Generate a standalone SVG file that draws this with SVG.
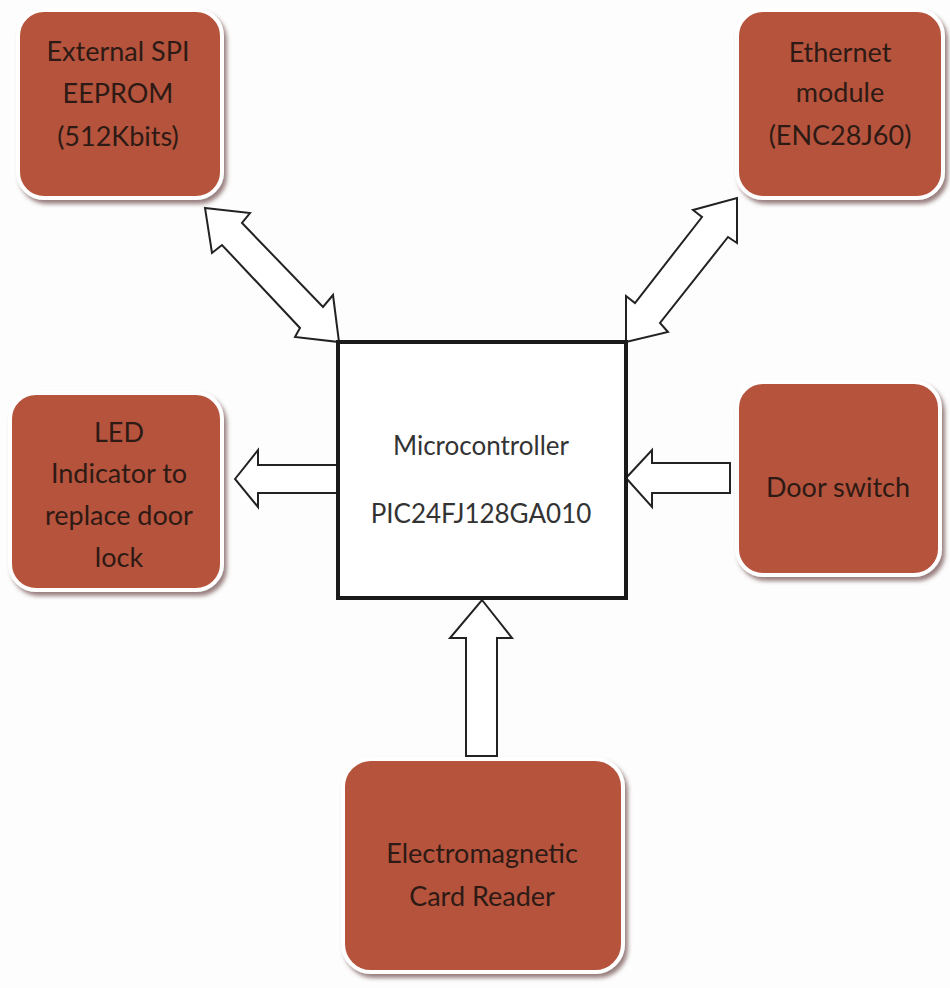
<svg xmlns="http://www.w3.org/2000/svg" width="950" height="988" viewBox="0 0 950 988">
<defs>
<filter id="sh" x="-10%" y="-10%" width="125%" height="125%">
<feDropShadow dx="3" dy="4" stdDeviation="2" flood-color="#6e4848" flood-opacity="0.7"/>
</filter>
<style>
.blk{fill:#b5533d;stroke:#ffffff;stroke-width:4;filter:url(#sh)}
.lbl{font-family:Lato,"Liberation Sans",sans-serif;font-size:27px;fill:#2e1a14;text-anchor:middle}
.mlbl{font-family:Lato,"Liberation Sans",sans-serif;font-size:26px;fill:#333333;text-anchor:middle}
.arr{fill:#ffffff;stroke:#222222;stroke-width:2;stroke-linejoin:miter}
.mc{fill:#ffffff;stroke:#1a1a1a;stroke-width:4}
</style>
</defs>
<rect width="950" height="988" fill="#fdfdfd"/>
<g id="connectors">
<polygon class="arr" points="205,208 250,213 242,223 323,307 333,295 339,342 295,337 300,328 222,245 212,253"/>
<polygon class="arr" points="737,198 737,243 728,237 660,323 668,332 626,342 626,296 635,303 702,217 693,210"/>
<polygon class="arr" points="235,479 258,450 258,465 338,465 338,493 258,493 258,507"/>
<polygon class="arr" points="626,478 652,450 652,463 730,463 730,493 652,493 652,507"/>
<polygon class="arr" points="482,600 512,638 497,638 497,756 466,756 466,638 450,638"/>
</g>
<g id="eeprom">
<rect class="blk" x="18" y="10" width="204" height="188" rx="26"/>
<text class="lbl" x="118" y="61">External SPI</text>
<text class="lbl" x="118" y="103">EEPROM</text>
<text class="lbl" x="118" y="146">(512Kbits)</text>
</g>
<g id="ethernet">
<rect class="blk" x="737" y="10" width="206" height="188" rx="26"/>
<text class="lbl" x="840" y="62">Ethernet</text>
<text class="lbl" x="840" y="102">module</text>
<text class="lbl" x="840" y="145">(ENC28J60)</text>
</g>
<g id="led">
<rect class="blk" x="10" y="393" width="212" height="197" rx="26"/>
<text class="lbl" x="119" y="442">LED</text>
<text class="lbl" x="119" y="483">Indicator to</text>
<text class="lbl" x="119" y="525">replace door</text>
<text class="lbl" x="119" y="567">lock</text>
</g>
<g id="door">
<rect class="blk" x="737" y="382" width="203" height="193" rx="26"/>
<text class="lbl" x="838" y="497">Door switch</text>
</g>
<g id="mcu">
<rect class="mc" x="338" y="342" width="288" height="256"/>
<text class="mlbl" x="481" y="455">Microcontroller</text>
<text class="mlbl" x="481" y="523">PIC24FJ128GA010</text>
</g>
<g id="cardreader">
<rect class="blk" x="343" y="759" width="280" height="213" rx="28"/>
<text class="lbl" x="482" y="863">Electromagnetic</text>
<text class="lbl" x="482" y="906">Card Reader</text>
</g>
</svg>
